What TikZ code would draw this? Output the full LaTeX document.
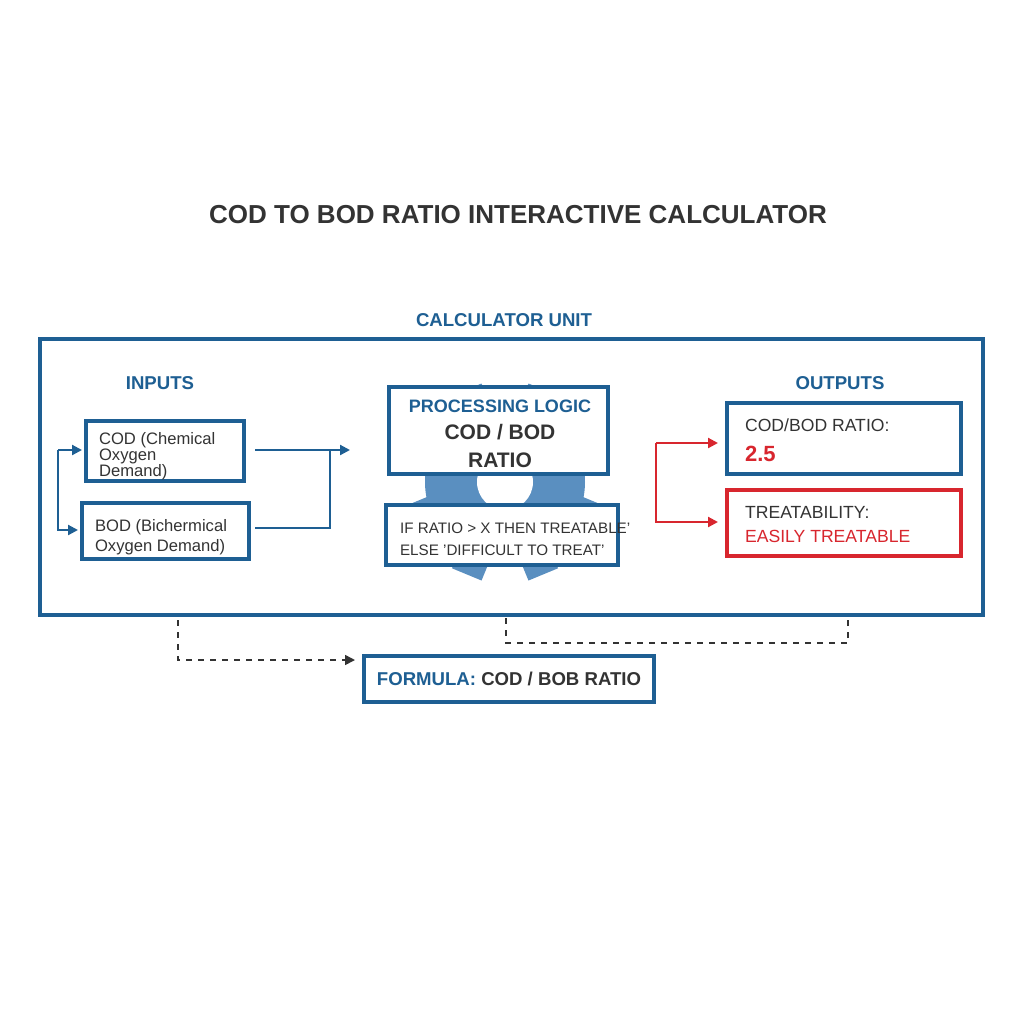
\documentclass[tikz,border=0pt]{standalone}
\usepackage{fontspec}
\setmainfont{Liberation Sans}
\usetikzlibrary{arrows.meta}
\definecolor{bl}{HTML}{1E5F93}
\definecolor{gr}{HTML}{5A8FC0}
\definecolor{rd}{HTML}{D8262E}
\definecolor{tx}{HTML}{333333}
\begin{document}
\begin{tikzpicture}[x=0.5pt,y=-0.5pt,
 box/.style={draw=bl,line width=1.6pt,fill=white},
 arr/.style={draw=bl,line width=1.1pt,-{Triangle[length=5pt,width=5pt]}},
 rarr/.style={draw=rd,line width=1.1pt,-{Triangle[length=5pt,width=5pt]}},
 dline/.style={draw=tx,line width=0.8pt,dashed},
 lbl/.style={font=\fontsize{8.3}{10}\selectfont,text=tx,align=left,anchor=north west}]
\useasboundingbox (0,0) rectangle (1024,1024);
\fill[white] (0,0) rectangle (1024,1024);
\node[font=\fontsize{13}{16}\selectfont\bfseries,text=tx] (title) at (518,215) {COD TO BOD RATIO INTERACTIVE CALCULATOR};
\node[font=\fontsize{9.3}{12}\selectfont\bfseries,text=bl] (cu) at (504,320) {CALCULATOR UNIT};
\draw[box] (40,339) rectangle (983,615);
\node[font=\fontsize{9.3}{12}\selectfont\bfseries,text=bl] (inp) at (160,383) {INPUTS};
\node[font=\fontsize{9.3}{12}\selectfont\bfseries,text=bl] (outp) at (840,383) {OUTPUTS};
% inputs
\draw[box] (86,421) rectangle (244,481);
\node[lbl] (cod) at (92,425) {COD (Chemical\\[-2pt]Oxygen\\[-2pt]Demand)};
\draw[box] (82,503) rectangle (249,559);
\node[lbl] (bod) at (88,512) {BOD (Bichermical\\Oxygen Demand)};
\coordinate (c1) at (58,450); \coordinate (c2) at (58,530);
\draw[arr] (c1) -- (82,450);
\draw[arr] (c1) -- (c2) -- (78,530);
\draw[arr] (255,450) -- (350,450);
\draw[draw=bl,line width=1.1pt] (255,528) -- (330,528) -- (330,450);
% gear
\begin{scope}[shift={(505,482)}]
\fill[gr] (0,0) circle (80);
\foreach \a in {22.5,67.5,...,337.5}{\fill[gr,rotate=\a] (-16,-70) rectangle (16,-100);}
\fill[white] (0,0) circle (28);
\end{scope}
% processing
\draw[box] (389,387) rectangle (608,474);
\node[font=\fontsize{9}{12}\selectfont\bfseries,text=bl] (pl) at (500,406) {PROCESSING LOGIC};
\node[font=\fontsize{10.5}{13}\selectfont\bfseries,text=tx,align=center] (rat) at (500,446) {COD / BOD\\[1pt]RATIO};
\draw[box] (386,505) rectangle (618,565);
\node[lbl,font=\fontsize{7.6}{11}\selectfont] (cond) at (393,516) {IF RATIO > X THEN TREATABLE'\\ELSE 'DIFFICULT TO TREAT'};
% outputs
\draw[box] (727,403) rectangle (961,474);
\node[lbl,font=\fontsize{8.8}{12}\selectfont] (r1) at (738,412) {COD/BOD RATIO:};
\node[anchor=north west,font=\fontsize{11}{13}\selectfont\bfseries,text=rd] (r2) at (738,439) {2.5};
\draw[draw=rd,line width=1.6pt,fill=white] (727,490) rectangle (961,556);
\node[lbl,font=\fontsize{8.8}{12}\selectfont] (t1) at (738,499) {TREATABILITY:};
\node[anchor=north west,font=\fontsize{8.8}{12}\selectfont,text=rd] (t2) at (738,523) {EASILY TREATABLE};
\coordinate (d1) at (656,443); \coordinate (d2) at (656,522);
\draw[rarr] (d1) -- (718,443);
\draw[rarr] (d1) -- (d2) -- (718,522);
% formula
\node[box,minimum width=145pt,minimum height=23pt,font=\fontsize{9.3}{12}\selectfont\bfseries] (form) at (509,679) {\textcolor{bl}{FORMULA:} \textcolor{tx}{COD / BOB RATIO}};
\coordinate (f1) at (178,620); \coordinate (f2) at (178,660);
\draw[dline,-{Triangle[length=5pt,width=5pt]}] (f1) -- (f2) -- (355,660);
\coordinate (g1) at (506,618); \coordinate (g2) at (848,618);
\draw[dline] (g1) -- (506,643) -- (848,643) -- (g2);
\end{tikzpicture}
\end{document}
